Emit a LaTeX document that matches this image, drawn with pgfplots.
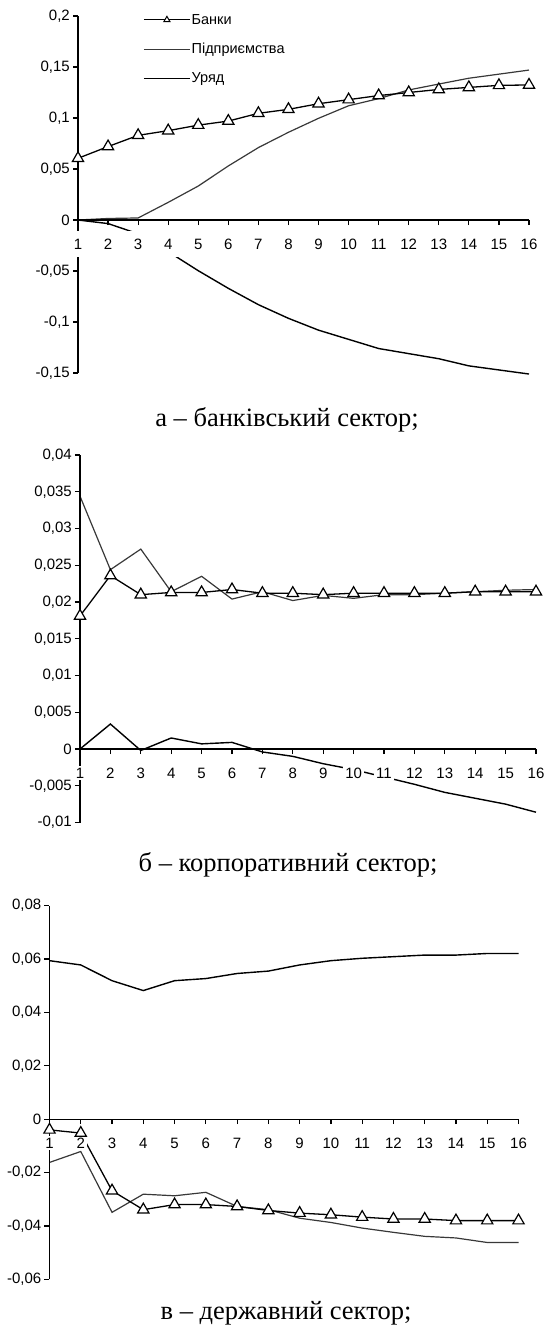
\documentclass[border=0pt]{standalone}
\usepackage{pgfplots}
\pgfplotsset{compat=1.18}
\usepackage{fontspec}
\setmainfont{Liberation Serif}
\newfontfamily\arial{Liberation Sans}
\pgfplotsset{
  sect/.style={
    scale only axis, clip=false, axis on top,
    axis y line=left, axis x line=middle,
    hide obscured x ticks=false, hide obscured y ticks=false,
    scaled y ticks=false,
    axis line style={-, line width=1.3pt, black},
    xmin=1, xmax=16,
    xtick={1,...,16},
    xticklabels={1,2,3,4,5,6,7,8,9,10,11,12,13,14,15,16},
    tick align=outside, major tick length=5pt,
    tick style={line width=1.2pt, black},
    ticklabel style={font=\arial\fontsize{15}{17}\selectfont},
    yticklabel style={inner sep=3pt},
    xticklabel style={fill=white, anchor=center, yshift=-19pt, inner xsep=2pt, inner ysep=2pt},
  },
  banky/.style={black, line width=1.3pt, mark=triangle*, mark size=6.5pt,
    mark options={fill=white, draw=black, line width=1.2pt, solid}},
  pidpr/.style={black!78, line width=1.2pt, no markers},
  uriad/.style={black, line width=1.4pt, no markers},
}
\begin{document}
\begin{tikzpicture}
\path (0,0) rectangle (544pt,-1334pt);
% ---------- panel a ----------
\begin{axis}[sect, at={(78pt,-373pt)}, anchor=south west,
  width=451pt, height=357pt, ymin=-0.15, ymax=0.2,
  ytick={-0.15,-0.1,-0.05,0,0.05,0.1,0.15,0.2},
  yticklabels={{-0,15},{-0,1},{-0,05},{0},{0,05},{0,1},{0,15},{0,2}},
  xticklabel style={minimum width=30pt, minimum height=26pt},
  legend style={at={(0.1375,1.014)}, anchor=north west, draw=none, fill=none,
    font=\arial\fontsize{14.5}{16}\selectfont, row sep=15.5pt,
    nodes={inner sep=1pt}},
  legend cell align=left,
  legend image code/.code={\draw[#1, mark repeat=2, mark phase=2] plot coordinates {(0pt,0pt) (23pt,0pt) (46pt,0pt)};},
]
\addlegendimage{black, line width=1.1pt, mark=triangle*, mark size=3.6pt, mark options={fill=white, draw=black, line width=1pt, solid}}
\addlegendentry{Банки}
\addlegendimage{pidpr}
\addlegendentry{Підприємства}
\addlegendimage{uriad}
\addlegendentry{Уряд}
\addplot[pidpr, forget plot] coordinates {(1,0) (2,0.0015) (3,0.002) (4,0.0173) (5,0.0333) (6,0.053) (7,0.071) (8,0.086) (9,0.0997) (10,0.112) (11,0.119) (12,0.1275) (13,0.1333) (14,0.139) (15,0.143) (16,0.147)};
\addplot[uriad, forget plot] coordinates {(1,0) (2,-0.0035) (3,-0.0135) (4,-0.031) (5,-0.0497) (6,-0.067) (7,-0.083) (8,-0.0964) (9,-0.108) (10,-0.117) (11,-0.126) (12,-0.131) (13,-0.136) (14,-0.143) (15,-0.147) (16,-0.151)};
\addplot[banky, forget plot] coordinates {(1,0.0605) (2,0.072) (3,0.083) (4,0.0876) (5,0.093) (6,0.097) (7,0.1046) (8,0.1085) (9,0.114) (10,0.118) (11,0.122) (12,0.125) (13,0.128) (14,0.130) (15,0.132) (16,0.1324)};
\end{axis}
\node[anchor=base, font=\fontsize{26.5}{29}\selectfont] at (287pt,-426pt) {а – банківський сектор;};
% ---------- panel b ----------
\begin{axis}[sect, at={(80pt,-822.5pt)}, anchor=south west,
  width=456pt, height=367.5pt, ymin=-0.01, ymax=0.04,
  ytick={-0.01,-0.005,0,0.005,0.01,0.015,0.02,0.025,0.03,0.035,0.04},
  yticklabels={{-0,01},{-0,005},{0},{0,005},{0,01},{0,015},{0,02},{0,025},{0,03},{0,035},{0,04}},
]
\addplot[pidpr] coordinates {(1,0.0344) (2,0.0244) (3,0.0272) (4,0.0214) (5,0.0235) (6,0.0204) (7,0.0214) (8,0.0202) (9,0.0209) (10,0.0205) (11,0.021) (12,0.021) (13,0.0212) (14,0.0214) (15,0.0216) (16,0.0217)};
\addplot[uriad] coordinates {(1,0) (2,0.0034) (3,-0.0002) (4,0.0015) (5,0.0007) (6,0.0009) (7,-0.0004) (8,-0.001) (9,-0.002) (10,-0.0028) (11,-0.0038) (12,-0.0048) (13,-0.0059) (14,-0.0067) (15,-0.0075) (16,-0.0086)};
\addplot[banky] coordinates {(1,0.0181) (2,0.0236) (3,0.021) (4,0.0213) (5,0.0213) (6,0.0217) (7,0.0212) (8,0.0212) (9,0.021) (10,0.0212) (11,0.0212) (12,0.0212) (13,0.0212) (14,0.0214) (15,0.0214) (16,0.0214)};
\end{axis}
\node[anchor=base, font=\fontsize{26.5}{29}\selectfont] at (288pt,-871pt) {б – корпоративний сектор;};
% ---------- panel c ----------
\begin{axis}[sect, at={(49.5pt,-1279.3pt)}, anchor=south west,
  width=469pt, height=373.6pt, ymin=-0.06, ymax=0.08,
  ytick={-0.06,-0.04,-0.02,0,0.02,0.04,0.06,0.08},
  yticklabels={{-0,06},{-0,04},{-0,02},{0},{0,02},{0,04},{0,06},{0,08}},
]
\addplot[pidpr] coordinates {(1,-0.0162) (2,-0.0121) (3,-0.0349) (4,-0.0281) (5,-0.0287) (6,-0.0274) (7,-0.0327) (8,-0.0339) (9,-0.0371) (10,-0.0387) (11,-0.0408) (12,-0.0424) (13,-0.0439) (14,-0.0445) (15,-0.0462) (16,-0.0462)};
\addplot[uriad] coordinates {(1,0.0594) (2,0.0578) (3,0.0519) (4,0.0482) (5,0.0519) (6,0.0527) (7,0.0546) (8,0.0555) (9,0.0578) (10,0.0594) (11,0.0603) (12,0.0609) (13,0.0615) (14,0.0615) (15,0.0621) (16,0.0621)};
\addplot[banky] coordinates {(1,-0.004) (2,-0.0052) (3,-0.0268) (4,-0.0339) (5,-0.032) (6,-0.032) (7,-0.0327) (8,-0.0342) (9,-0.0352) (10,-0.0358) (11,-0.0367) (12,-0.0374) (13,-0.0374) (14,-0.038) (15,-0.038) (16,-0.038)};
\end{axis}
\node[anchor=base, font=\fontsize{26.5}{29}\selectfont] at (286pt,-1319pt) {в – державний сектор;};
\pgfresetboundingbox
\path[use as bounding box] (0,0) rectangle (544pt,-1334pt);
\end{tikzpicture}
\end{document}
